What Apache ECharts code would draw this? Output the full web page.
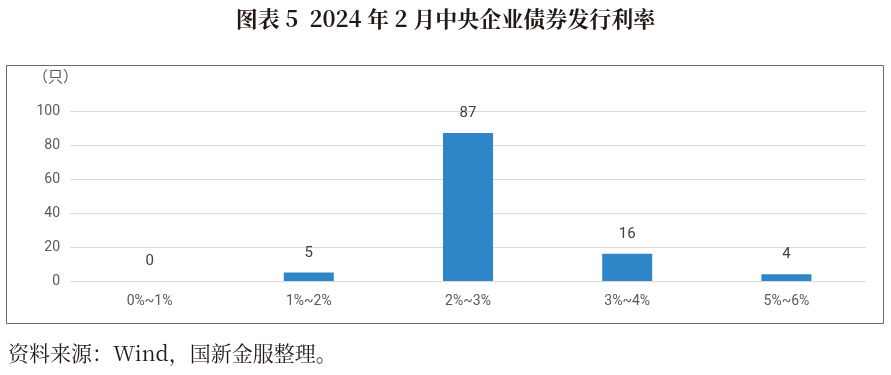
<!DOCTYPE html>
<html><head><meta charset="utf-8">
<script src="https://cdn.jsdelivr.net/npm/echarts@6/dist/echarts.min.js"></script>
<style>html,body{margin:0;padding:0;background:#fff}#c{width:891px;height:375px}</style>
</head><body><div id="c"></div>
<script>
const categories = ['0%~1%', '1%~2%', '2%~3%', '3%~4%', '5%~6%'];
const values = [0, 5, 87, 16, 4];
const yTicks = [0, 20, 40, 60, 80, 100];
const titleText = '图表 5  2024 年 2 月中央企业债券发行利率';
const sourceText = '资料来源：Wind，国新金服整理。';
const unitText = '（只）';

const chart = echarts.init(document.getElementById('c'), null, {renderer: 'canvas'});
chart.setOption({
  animation: false,
  title: {
    text: titleText, left: 'center', top: 3,
    textStyle: {fontFamily: '"Noto Serif CJK SC","Noto Sans CJK SC",serif', fontWeight: 'bold', fontSize: 22, color: '#231815'}
  },
  graphic: [
    {type: 'rect', shape: {x: 6.5, y: 65.5, width: 877, height: 258}, style: {fill: 'none', stroke: '#6b6b6b', lineWidth: 1}, z: -1},
    {type: 'text', left: 33, top: 69, style: {text: unitText, fontSize: 15, fill: '#595959', fontFamily: '"Noto Sans CJK SC",sans-serif'}},
    {type: 'text', left: 8, top: 343, style: {text: sourceText, fontSize: 21, fill: '#231815', fontFamily: '"Noto Serif CJK SC","Noto Sans CJK SC",serif'}}
  ],
  grid: {left: 70, right: 25, top: 111, bottom: 94, containLabel: false},
  xAxis: {
    type: 'category', data: categories,
    axisLine: {show: false}, axisTick: {show: false},
    axisLabel: {color: '#595959', fontSize: 14, margin: 13, fontFamily: 'Roboto, sans-serif'}
  },
  yAxis: {
    type: 'value', min: 0, max: 100, interval: 20,
    axisLine: {show: false}, axisTick: {show: false},
    axisLabel: {color: '#595959', fontSize: 14, margin: 10, fontFamily: 'Roboto, sans-serif'},
    splitLine: {lineStyle: {color: '#d9d9d9', width: 1}}
  },
  series: [{
    type: 'bar', data: values, barWidth: 50,
    itemStyle: {color: '#2E86C8'},
    label: {show: true, position: 'top', distance: 12, color: '#404040', fontSize: 15, fontFamily: 'Roboto, sans-serif'}
  }]
});
</script></body></html>
